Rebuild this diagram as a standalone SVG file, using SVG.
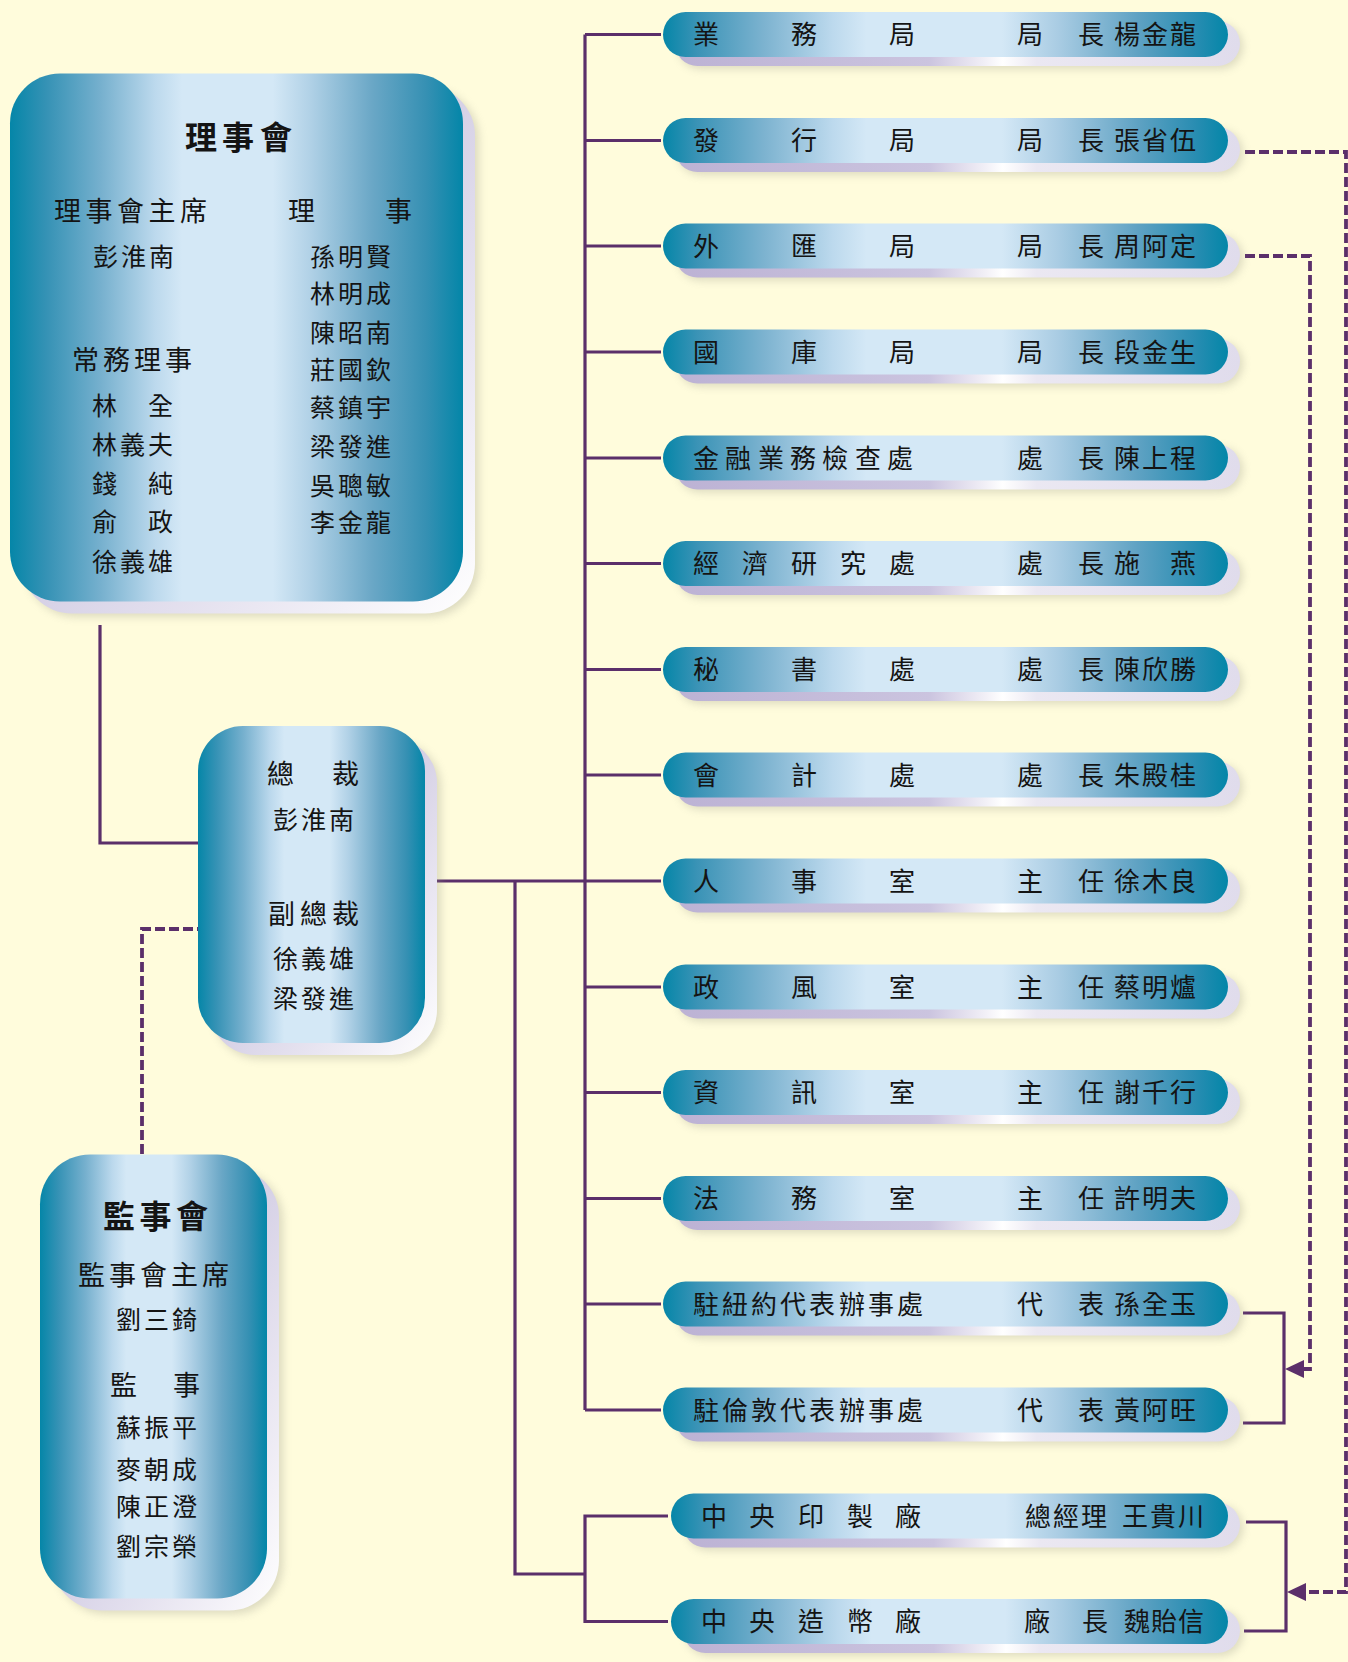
<svg xmlns="http://www.w3.org/2000/svg" xmlns:xlink="http://www.w3.org/1999/xlink" width="1348" height="1662" viewBox="0 0 1348 1662">
<style>
  text { font-family: "Noto Sans CJK TC", "Noto Sans CJK JP", "Noto Sans CJK SC", sans-serif; fill: #141414; }
  .bt { font-size: 26px; }
  .title { font-size: 32px; font-weight: bold; }
  .hd { font-size: 27px; }
  .nm { font-size: 25px; }
  .line { fill: none; stroke: #5b2f6a; stroke-width: 3.2; }
  .dash { fill: none; stroke: #5b2f6a; stroke-width: 3.8; stroke-dasharray: 10 4; }
  .arrow { fill: #5b2f6a; }
</style>
<defs>
  <linearGradient id="gBox" x1="0" y1="0" x2="1" y2="0">
    <stop offset="0" stop-color="#0586a8"/>
    <stop offset="0.08" stop-color="#3592b5"/>
    <stop offset="0.2" stop-color="#76b0ce"/>
    <stop offset="0.32" stop-color="#bcd9ed"/>
    <stop offset="0.38" stop-color="#d4e8f6"/>
    <stop offset="0.58" stop-color="#d4e8f6"/>
    <stop offset="0.66" stop-color="#b2d2e7"/>
    <stop offset="0.8" stop-color="#6aa7c6"/>
    <stop offset="0.92" stop-color="#3590b3"/>
    <stop offset="1" stop-color="#0386a8"/>
  </linearGradient>
  <linearGradient id="gBar" x1="0" y1="0" x2="1" y2="0">
    <stop offset="0" stop-color="#0586a8"/>
    <stop offset="0.06" stop-color="#3a93b6"/>
    <stop offset="0.18" stop-color="#7db3d0"/>
    <stop offset="0.3" stop-color="#bcd9ed"/>
    <stop offset="0.36" stop-color="#d4e8f6"/>
    <stop offset="0.6" stop-color="#d4e8f6"/>
    <stop offset="0.7" stop-color="#a9cce3"/>
    <stop offset="0.84" stop-color="#5fa2c3"/>
    <stop offset="0.94" stop-color="#2a8db2"/>
    <stop offset="1" stop-color="#0386a8"/>
  </linearGradient>
  <linearGradient id="gBarSh" x1="0" y1="0" x2="1" y2="0">
    <stop offset="0" stop-color="#bcb2d4"/>
    <stop offset="0.45" stop-color="#cbc4df"/>
    <stop offset="0.55" stop-color="#f2f0f7"/>
    <stop offset="0.58" stop-color="#ffffff"/>
    <stop offset="0.64" stop-color="#ebe8f2"/>
    <stop offset="1" stop-color="#e0dcec"/>
  </linearGradient>
  <linearGradient id="gBoxSh" x1="0" y1="0" x2="1" y2="1">
    <stop offset="0" stop-color="#c2bbda"/>
    <stop offset="0.5" stop-color="#d6d1e6"/>
    <stop offset="0.85" stop-color="#f2f0f7"/>
    <stop offset="1" stop-color="#ffffff"/>
  </linearGradient>
  <filter id="soft" x="-10%" y="-40%" width="120%" height="180%">
    <feGaussianBlur stdDeviation="4"/>
  </filter>
  <g id="bar">
    <rect x="15" y="12" width="565" height="45" rx="22.5" fill="#8f8f80" opacity="0.3" filter="url(#soft)"/>
    <rect x="12" y="9" width="565" height="45" rx="22.5" fill="url(#gBarSh)"/>
    <rect x="0" y="0" width="565" height="45" rx="22.5" fill="url(#gBar)"/>
  </g>
  <g id="barS">
    <rect x="15" y="12" width="557" height="45" rx="22.5" fill="#8f8f80" opacity="0.3" filter="url(#soft)"/>
    <rect x="12" y="9" width="557" height="45" rx="22.5" fill="url(#gBarSh)"/>
    <rect x="0" y="0" width="557" height="45" rx="22.5" fill="url(#gBar)"/>
  </g>
</defs>

<rect x="0" y="0" width="1348" height="1662" fill="#fffcdc"/>

<g id="connectors">
  <path class="line" d="M100,625 V843 H198"/>
  <path class="line" d="M425,881 H661"/>
  <path class="line" d="M585,34.5 V1410"/>
  <path class="line" d="M585,34.5 H661 M585,140.5 H661 M585,246 H661 M585,352 H661 M585,458 H661 M585,563.5 H661 M585,669.5 H661 M585,775 H661 M585,987 H661 M585,1092.5 H661 M585,1198.5 H661 M585,1304 H661 M585,1410 H661"/>
  <path class="line" d="M515,881 V1574 H585"/>
  <path class="line" d="M668,1516 H585 V1621.5 H668"/>
  <path class="line" d="M1243,1313 H1284 V1423 H1243"/>
  <path class="line" d="M1246,1522 H1286 V1631 H1244"/>
  <path class="dash" d="M142,1154 V929 H198"/>
  <path class="dash" d="M1245,152 H1346 V1592 H1303"/>
  <path class="dash" d="M1245,256 H1310 V1369 H1303"/>
  <polygon class="arrow" points="1285,1369 1304,1360 1304,1378"/>
  <polygon class="arrow" points="1287,1592 1306,1583 1306,1601"/>
</g>

<g id="board">
  <rect x="26" y="89" width="453" height="528" rx="50" fill="#8f8f80" opacity="0.3" filter="url(#soft)"/>
  <rect x="22" y="85.5" width="453" height="528" rx="50" fill="url(#gBoxSh)"/>
  <rect x="10" y="73.5" width="453" height="528" rx="50" fill="url(#gBox)"/>
  <text class="title" x="185 222 260" y="149">理事會</text>
  <text class="hd" x="54 85.5 117 148.5 180" y="221">理事會主席</text>
  <text class="hd" x="288 385" y="221">理事</text>
  <text class="nm" x="93 121 149" y="266">彭淮南</text>
  <text class="hd" x="72 103 134 165" y="370">常務理事</text>
  <text class="nm" x="92 148" y="415">林全</text>
  <text class="nm" x="92 120 148" y="454">林義夫</text>
  <text class="nm" x="92 148" y="493">錢純</text>
  <text class="nm" x="92 148" y="531">俞政</text>
  <text class="nm" x="92 120 148" y="571">徐義雄</text>
  <text class="nm" x="310 338 366" y="266">孫明賢</text>
  <text class="nm" x="310 338 366" y="303">林明成</text>
  <text class="nm" x="310 338 366" y="342">陳昭南</text>
  <text class="nm" x="310 338 366" y="379">莊國欽</text>
  <text class="nm" x="310 338 366" y="417">蔡鎮宇</text>
  <text class="nm" x="310 338 366" y="456">梁發進</text>
  <text class="nm" x="310 338 366" y="495">吳聰敏</text>
  <text class="nm" x="310 338 366" y="532">李金龍</text>
</g>

<g id="governor">
  <rect x="214" y="742" width="227" height="317" rx="45" fill="#8f8f80" opacity="0.3" filter="url(#soft)"/>
  <rect x="210" y="738" width="227" height="317" rx="45" fill="url(#gBoxSh)"/>
  <rect x="198" y="726" width="227" height="317" rx="45" fill="url(#gBox)"/>
  <text class="hd" x="267 332" y="784">總裁</text>
  <text class="nm" x="273 301 329" y="829">彭淮南</text>
  <text class="hd" x="268 300 332" y="924">副總裁</text>
  <text class="nm" x="273 301 329" y="968">徐義雄</text>
  <text class="nm" x="273 301 329" y="1008">梁發進</text>
</g>

<g id="supervisors">
  <rect x="56" y="1170" width="227" height="444" rx="50" fill="#8f8f80" opacity="0.3" filter="url(#soft)"/>
  <rect x="52" y="1166.5" width="227" height="444" rx="50" fill="url(#gBoxSh)"/>
  <rect x="40" y="1154.5" width="227" height="444" rx="50" fill="url(#gBox)"/>
  <text class="title" x="103 139.5 176" y="1228">監事會</text>
  <text class="hd" x="78 109 140 171 202" y="1285">監事會主席</text>
  <text class="nm" x="116 144 172" y="1329">劉三錡</text>
  <text class="hd" x="110 173" y="1395">監事</text>
  <text class="nm" x="116 144 172" y="1437">蘇振平</text>
  <text class="nm" x="116 144 172" y="1479">麥朝成</text>
  <text class="nm" x="116 144 172" y="1516">陳正澄</text>
  <text class="nm" x="116 144 172" y="1556">劉宗榮</text>
</g>

<g id="dept-01" transform="translate(663,12)"><use xlink:href="#bar"/>
  <text class="bt" x="30 128 226" y="32">業務局</text><text class="bt" x="354 415 451 479 507" y="32">局長楊金龍</text></g>
<g id="dept-02" transform="translate(663,118)"><use xlink:href="#bar"/>
  <text class="bt" x="30 128 226" y="32">發行局</text><text class="bt" x="354 415 451 479 507" y="32">局長張省伍</text></g>
<g id="dept-03" transform="translate(663,223.5)"><use xlink:href="#bar"/>
  <text class="bt" x="30 128 226" y="32">外匯局</text><text class="bt" x="354 415 451 479 507" y="32">局長周阿定</text></g>
<g id="dept-04" transform="translate(663,329.5)"><use xlink:href="#bar"/>
  <text class="bt" x="30 128 226" y="32">國庫局</text><text class="bt" x="354 415 451 479 507" y="32">局長段金生</text></g>
<g id="dept-05" transform="translate(663,435.5)"><use xlink:href="#bar"/>
  <text class="bt" x="30 62 95 127 159 192 224" y="32">金融業務檢查處</text><text class="bt" x="354 415 451 479 507" y="32">處長陳上程</text></g>
<g id="dept-06" transform="translate(663,541)"><use xlink:href="#bar"/>
  <text class="bt" x="30 79 128 177 226" y="32">經濟研究處</text><text class="bt" x="354 415 451 507" y="32">處長施燕</text></g>
<g id="dept-07" transform="translate(663,647)"><use xlink:href="#bar"/>
  <text class="bt" x="30 128 226" y="32">秘書處</text><text class="bt" x="354 415 451 479 507" y="32">處長陳欣勝</text></g>
<g id="dept-08" transform="translate(663,752.5)"><use xlink:href="#bar"/>
  <text class="bt" x="30 128 226" y="32">會計處</text><text class="bt" x="354 415 451 479 507" y="32">處長朱殿桂</text></g>
<g id="dept-09" transform="translate(663,858.5)"><use xlink:href="#bar"/>
  <text class="bt" x="30 128 226" y="32">人事室</text><text class="bt" x="354 415 451 479 507" y="32">主任徐木良</text></g>
<g id="dept-10" transform="translate(663,964.5)"><use xlink:href="#bar"/>
  <text class="bt" x="30 128 226" y="32">政風室</text><text class="bt" x="354 415 451 479 507" y="32">主任蔡明爐</text></g>
<g id="dept-11" transform="translate(663,1070)"><use xlink:href="#bar"/>
  <text class="bt" x="30 128 226" y="32">資訊室</text><text class="bt" x="354 415 451 479 507" y="32">主任謝千行</text></g>
<g id="dept-12" transform="translate(663,1176)"><use xlink:href="#bar"/>
  <text class="bt" x="30 128 226" y="32">法務室</text><text class="bt" x="354 415 451 479 507" y="32">主任許明夫</text></g>
<g id="dept-13" transform="translate(663,1281.5)"><use xlink:href="#bar"/>
  <text class="bt" x="30 59 88 117 146 176 205 234" y="32">駐紐約代表辦事處</text><text class="bt" x="354 415 451 479 507" y="32">代表孫全玉</text></g>
<g id="dept-14" transform="translate(663,1387.5)"><use xlink:href="#bar"/>
  <text class="bt" x="30 59 88 117 146 176 205 234" y="32">駐倫敦代表辦事處</text><text class="bt" x="354 415 451 479 507" y="32">代表黃阿旺</text></g>
<g id="plant-01" transform="translate(671,1493.5)"><use xlink:href="#barS"/>
  <text class="bt" x="30 78 127 176 224" y="32">中央印製廠</text><text class="bt" x="354 382 410 451 479 507" y="32">總經理王貴川</text></g>
<g id="plant-02" transform="translate(671,1599)"><use xlink:href="#barS"/>
  <text class="bt" x="30 78 127 176 224" y="32">中央造幣廠</text><text class="bt" x="353 411 453 480 507" y="32">廠長魏貽信</text></g>
</svg>
